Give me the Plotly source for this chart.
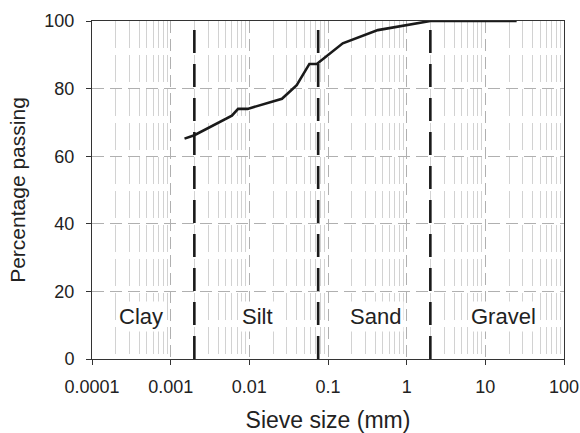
import numpy as np
import plotly.graph_objects as go

# ---- data ----
sieve_mm = [0.0015, 0.002, 0.006, 0.0072, 0.0095, 0.026, 0.04, 0.058, 0.072, 0.154, 0.43, 2.0, 25.0]
passing_pct = [65.2, 66.2, 72.0, 74.0, 74.0, 77.0, 81.0, 87.3, 87.3, 93.4, 97.3, 100.0, 100.0]

boundaries_mm = [0.002, 0.075, 2.0]
soil_labels = ["Clay", "Silt", "Sand", "Gravel"]

x_tickvals = [0.0001, 0.001, 0.01, 0.1, 1, 10, 100]
x_ticktext = ["0.0001", "0.001", "0.01", "0.1", "1", "10", "100"]
y_tickvals = [0, 20, 40, 60, 80, 100]

FONT = "Liberation Sans, Arial, sans-serif"

# minor grid positions (2..9 within each decade)
minor_vals = [m * d for d in x_tickvals[:-1] for m in range(2, 10)]

fig = go.Figure()

# boundary lines
for b in boundaries_mm:
    fig.add_trace(go.Scatter(
        x=[b, b], y=[0, 100], mode="lines",
        line=dict(color="#1a1a1a", width=2.6, dash="23px,11px"),
        showlegend=False, hoverinfo="skip"))

# grading curve
fig.add_trace(go.Scatter(
    x=sieve_mm, y=passing_pct, mode="lines",
    line=dict(color="#1a1a1a", width=2.6),
    showlegend=False))

# region labels
label_x = [0.000425, 0.0127, 0.40, 16.8]
for txt, lx in zip(soil_labels, label_x):
    fig.add_annotation(x=np.log10(lx), y=12.6, text=txt, showarrow=False,
                       font=dict(family=FONT, size=22, color="#222"),
                       bgcolor="white", borderpad=2)

fig.update_layout(
    width=580, height=433,
    margin=dict(l=92, r=16, t=21, b=74),
    paper_bgcolor="white", plot_bgcolor="white",
    font=dict(family=FONT, color="#222"),
)

fig.update_xaxes(
    type="log", range=[-4, 2], automargin=False,
    tickmode="array", tickvals=x_tickvals, ticktext=x_ticktext,
    ticks="outside", ticklen=5, tickcolor="#333", tickwidth=1,
    tickfont=dict(family=FONT, size=18, color="#222"),
    ticklabeloverflow="allow",
    showline=True, linecolor="#333", linewidth=1, mirror=True,
    showgrid=True, gridcolor="#b0b0b0", gridwidth=1, griddash="12px,6px",
    minor=dict(tickmode="array", tickvals=minor_vals, showgrid=True, gridcolor="#d2d2d2",
               gridwidth=1, griddash="27px,7px", ticks=""),
    zeroline=False,
    title=dict(text="Sieve size (mm)", font=dict(family=FONT, size=23, color="#222"), standoff=26),
    ticklabelstandoff=6,
)

fig.update_yaxes(
    range=[0, 100], automargin=False,
    tickmode="array", tickvals=y_tickvals,
    ticks="outside", ticklen=5, tickcolor="#333", tickwidth=1,
    tickfont=dict(family=FONT, size=18, color="#222"),
    showline=True, linecolor="#333", linewidth=1, mirror=True,
    showgrid=True, gridcolor="#b0b0b0", gridwidth=1, griddash="12px,6px",
    zeroline=False,
    title=dict(text="Percentage passing", font=dict(family=FONT, size=21, color="#222"), standoff=13),
    ticklabelstandoff=8,
)

fig.write_html(
    "out.html",
    config={"displayModeBar": False},
    post_script="document.body.style.margin='0';document.body.style.overflow='hidden';",
)
